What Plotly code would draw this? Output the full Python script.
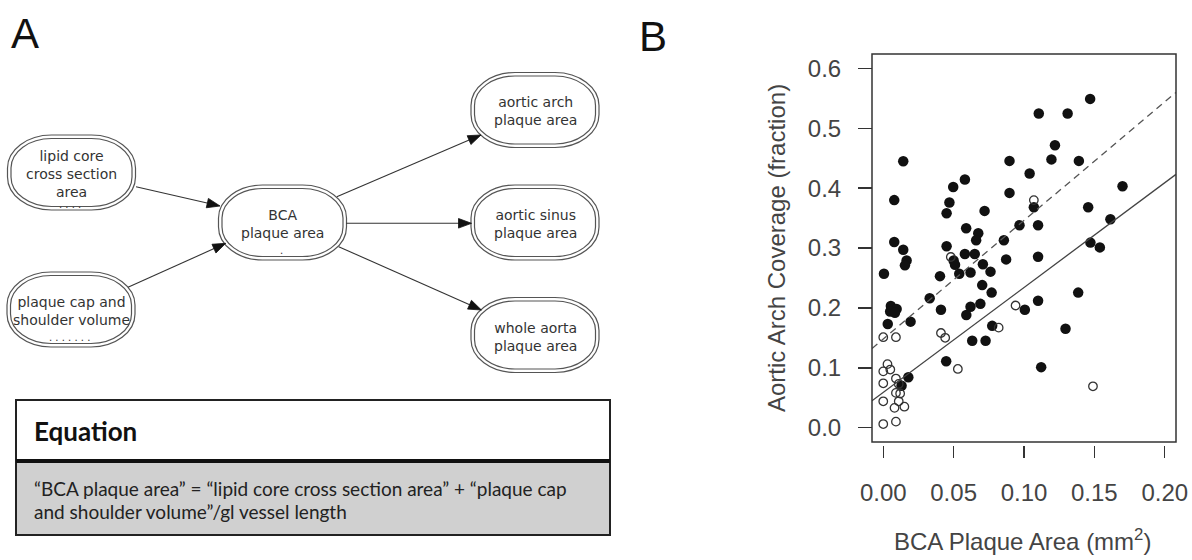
import math
import plotly.graph_objects as go

W, H = 1192, 560

# ---------------- data (panel B) ----------------
filled_x = [0.0142, 0.0078, 0.0078, 0.0142, 0.0166, 0.0154, 0.0005, 0.0054, 0.0095, 0.0049,
            0.0083, 0.0032, 0.0194, 0.0178, 0.0130, 0.0497, 0.0580, 0.0470, 0.0450, 0.0450,
            0.0500, 0.0510, 0.0403, 0.0330, 0.0410, 0.0447, 0.0589, 0.0675, 0.0660, 0.0720,
            0.0580, 0.0650, 0.0540, 0.0620, 0.0708, 0.0762, 0.0703, 0.0770, 0.0690, 0.0620,
            0.0590, 0.0632, 0.0727, 0.0774, 0.0897, 0.0897, 0.0857, 0.0873, 0.0968, 0.1040,
            0.1070, 0.1100, 0.1100, 0.1100, 0.1006, 0.1122, 0.1105, 0.1310, 0.1470, 0.1220,
            0.1195, 0.1390, 0.1700, 0.1456, 0.1614, 0.1472, 0.1539, 0.1385, 0.1295]
filled_y = [0.445, 0.380, 0.310, 0.297, 0.279, 0.271, 0.257, 0.203, 0.198, 0.194,
            0.192, 0.173, 0.177, 0.084, 0.070, 0.402, 0.4145, 0.376, 0.358, 0.303,
            0.279, 0.272, 0.253, 0.216, 0.197, 0.111, 0.333, 0.3245, 0.313, 0.362,
            0.290, 0.290, 0.257, 0.259, 0.273, 0.2605, 0.238, 0.2255, 0.2067, 0.202,
            0.188, 0.145, 0.145, 0.170, 0.4455, 0.392, 0.313, 0.281, 0.338, 0.4245,
            0.368, 0.338, 0.2855, 0.212, 0.197, 0.101, 0.5245, 0.5245, 0.549, 0.4717,
            0.448, 0.4455, 0.403, 0.368, 0.348, 0.309, 0.301, 0.2255, 0.165]

open_x = [0.000, 0.009, 0.003, 0.000, 0.005, 0.000, 0.009, 0.011, 0.009, 0.012,
          0.011, 0.000, 0.008, 0.015, 0.000, 0.009, 0.041, 0.044, 0.053, 0.048,
          0.094, 0.082, 0.107, 0.149]
open_y = [0.151, 0.151, 0.106, 0.094, 0.097, 0.074, 0.082, 0.073, 0.058, 0.057,
          0.044, 0.044, 0.033, 0.035, 0.006, 0.010, 0.158, 0.150, 0.098, 0.285,
          0.204, 0.167, 0.380, 0.069]

fit_names = ["dashed fit", "solid fit"]
fit_intercept = [0.148, 0.059]
fit_slope = [1.98, 1.75]

x_tickvals = [0.00, 0.05, 0.10, 0.15, 0.20]
x_ticktext = ["0.00", "0.05", "0.10", "0.15", "0.20"]
y_tickvals = [0.0, 0.1, 0.2, 0.3, 0.4, 0.5, 0.6]
y_ticktext = ["0.0", "0.1", "0.2", "0.3", "0.4", "0.5", "0.6"]

x_title = "BCA Plaque Area (mm<sup>2</sup>)"
y_title = "Aortic Arch Coverage (fraction)"

# ---------------- data (panel A diagram) ----------------
node_ids = ["lipid", "cap", "bca", "arch", "sinus", "whole"]
node_labels = ["lipid core<br>cross section<br>area", "plaque cap and<br>shoulder volume",
               "BCA<br>plaque area", "aortic arch<br>plaque area",
               "aortic sinus<br>plaque area", "whole aorta<br>plaque area"]
node_dots = ["....", ".......", ".", "", "", ""]
edges = [("lipid", "bca"), ("cap", "bca"), ("bca", "arch"), ("bca", "sinus"), ("bca", "whole")]
eq_header = "Equation"
eq_lines = ["\u201cBCA plaque area\u201d = \u201clipid core cross section area\u201d + \u201cplaque cap",
            "and shoulder volume\u201d/gl vessel length"]

# ---------------- layout positions (pixels) ----------------
node_pos = {"lipid": (71.5, 172.5), "cap": (71, 309.5), "bca": (282.5, 222.5),
            "arch": (535, 110), "sinus": (535, 222.5), "whole": (535, 335)}
node_text_y = {"lipid": 174, "cap": 311, "bca": 224, "arch": 111.5, "sinus": 224, "whole": 336.5}
node_dot_pos = {"lipid": (70, 204), "cap": (69, 337), "bca": (281, 251)}
NW, NH = 128, 75
edge_pts = {("lipid", "bca"): ((136, 186.7), (220, 206)),
            ("cap", "bca"): ((128, 287.3), (225.8, 243.3)),
            ("bca", "arch"): ((336.8, 196.7), (481, 135)),
            ("bca", "sinus"): ((346.3, 223.3), (471.5, 223.3)),
            ("bca", "whole"): ((338.7, 246.7), (481.4, 310))}
HEAD_LEN, HEAD_HALF = 13, 4.8


def px(x):
    return x / W


def py(y):
    return 1 - y / H


def P(x, y):
    return f"{px(x):.6f},{py(y):.6f}"


def stadium(cx, cy, w, h, rx, ry):
    k = 0.5523
    x0, x1 = cx - w / 2, cx + w / 2
    y0, y1 = cy - h / 2, cy + h / 2
    d = (f"M{P(x0 + rx, y0)} L{P(x1 - rx, y0)} "
         f"C{P(x1 - rx + k * rx, y0)} {P(x1, y0 + ry - k * ry)} {P(x1, y0 + ry)} "
         f"L{P(x1, y1 - ry)} "
         f"C{P(x1, y1 - ry + k * ry)} {P(x1 - rx + k * rx, y1)} {P(x1 - rx, y1)} "
         f"L{P(x0 + rx, y1)} "
         f"C{P(x0 + rx - k * rx, y1)} {P(x0, y1 - ry + k * ry)} {P(x0, y1 - ry)} "
         f"L{P(x0, y0 + ry)} "
         f"C{P(x0, y0 + ry - k * ry)} {P(x0 + rx - k * rx, y0)} {P(x0 + rx, y0)} Z")
    return d


fig = go.Figure()

fig.add_trace(go.Scatter(x=filled_x, y=filled_y, mode="markers", name="filled",
                         marker=dict(size=10.5, color="#111111", line=dict(width=0)),
                         showlegend=False, hoverinfo="skip"))
fig.add_trace(go.Scatter(x=open_x, y=open_y, mode="markers", name="open",
                         marker=dict(size=8.5, symbol="circle-open", color="#333333",
                                     line=dict(width=1.3)),
                         showlegend=False, hoverinfo="skip"))

x_lo, x_hi = -0.008, 0.208
styles = ["7px,5px", "solid"]
colors = ["#555555", "#444444"]
for name, b0, b1, dash, col in zip(fit_names, fit_intercept, fit_slope, styles, colors):
    fig.add_trace(go.Scatter(x=[x_lo, x_hi], y=[b0 + b1 * x_lo, b0 + b1 * x_hi],
                             mode="lines", name=name, showlegend=False, hoverinfo="skip",
                             line=dict(color=col, width=1.3, dash=dash)))

tick_font = dict(family="Liberation Sans, Arial, sans-serif", size=24, color="#444444")

fig.update_layout(
    template="none",
    width=W, height=H, margin=dict(l=0, r=0, t=0, b=0, pad=0, autoexpand=False),
    paper_bgcolor="white", plot_bgcolor="white", showlegend=False,
    xaxis=dict(domain=[px(872), px(1176)], range=[x_lo, x_hi], tickvals=x_tickvals,
               ticktext=x_ticktext, ticks="outside", ticklen=12, tickwidth=1.5,
               tickcolor="#333333", showline=False, showgrid=False, zeroline=False,
               anchor="free", position=py(445), tickfont=tick_font,
               ticklabelstandoff=14, automargin=False, ticklabeloverflow="allow"),
    yaxis=dict(domain=[py(442), py(54)], range=[-0.024, 0.624], tickvals=y_tickvals,
               ticktext=y_ticktext, ticks="outside", ticklen=14, tickwidth=1.5,
               tickcolor="#333333", showline=False, showgrid=False, zeroline=False,
               anchor="free", position=px(872), tickfont=tick_font,
               ticklabelstandoff=12, automargin=False, ticklabeloverflow="allow"),
)

shapes = []
annotations = []

# plot box
shapes.append(dict(type="rect", xref="x domain", yref="y domain", x0=0, x1=1, y0=0, y1=1,
                   line=dict(color="#333333", width=1.5)))

# axis titles
annotations.append(dict(x=px(1022), y=py(540), xref="paper", yref="paper", text=x_title,
                        showarrow=False, font=dict(family="Liberation Sans, Arial, sans-serif",
                                                   size=24, color="#444444"),
                        xanchor="center", yanchor="middle"))
annotations.append(dict(x=px(776), y=py(248), xref="paper", yref="paper", text=y_title,
                        showarrow=False, textangle=-90,
                        font=dict(family="Liberation Sans, Arial, sans-serif", size=24,
                                  color="#444444"),
                        xanchor="center", yanchor="middle"))

# panel letters
for letter, (lx, ly) in zip(["A", "B"], [(25, 33), (653, 37)]):
    annotations.append(dict(x=px(lx), y=py(ly), xref="paper", yref="paper", text=letter,
                            showarrow=False, font=dict(family="Liberation Sans, Arial, sans-serif",
                                                       size=42, color="#111111"),
                            xanchor="center", yanchor="middle"))

# diagram nodes
node_font = dict(family="DejaVu Sans, sans-serif", size=14, color="#333333")
for nid, lab, dots in zip(node_ids, node_labels, node_dots):
    cx, cy = node_pos[nid]
    shapes.append(dict(type="path", xref="paper", yref="paper",
                       path=stadium(cx, cy, NW, NH, 44, 33),
                       line=dict(color="#555555", width=1.2)))
    shapes.append(dict(type="path", xref="paper", yref="paper",
                       path=stadium(cx, cy, NW - 7, NH - 7, 40.5, 29.5),
                       line=dict(color="#555555", width=1.2)))
    annotations.append(dict(x=px(cx), y=py(node_text_y[nid]), xref="paper", yref="paper",
                            text=lab, showarrow=False, font=node_font,
                            xanchor="center", yanchor="middle", align="center"))
    if dots:
        dx, dy = node_dot_pos[nid]
        annotations.append(dict(x=px(dx), y=py(dy), xref="paper", yref="paper",
                                text=" ".join(dots), showarrow=False,
                                font=dict(family="DejaVu Sans, sans-serif", size=10,
                                          color="#333333"),
                                xanchor="center", yanchor="middle"))

# diagram edges: shaft + filled triangular head
for e in edges:
    (tx, ty), (hx, hy) = edge_pts[e]
    L = math.hypot(hx - tx, hy - ty)
    ux, uy = (hx - tx) / L, (hy - ty) / L
    bx, by = hx - ux * HEAD_LEN, hy - uy * HEAD_LEN
    nx, ny = -uy, ux
    shapes.append(dict(type="line", xref="paper", yref="paper",
                       x0=px(tx), y0=py(ty), x1=px(bx + ux * 2), y1=py(by + uy * 2),
                       line=dict(color="#333333", width=1.1)))
    shapes.append(dict(type="path", xref="paper", yref="paper",
                       path=(f"M{P(hx, hy)} L{P(bx + nx * HEAD_HALF, by + ny * HEAD_HALF)} "
                             f"L{P(bx - nx * HEAD_HALF, by - ny * HEAD_HALF)} Z"),
                       fillcolor="#111111", line=dict(color="#111111", width=0.8)))

# equation box
shapes.append(dict(type="rect", xref="paper", yref="paper", x0=px(16), x1=px(610),
                   y0=py(535), y1=py(461), fillcolor="#d0d0d0", line=dict(width=0),
                   layer="below"))
shapes.append(dict(type="rect", xref="paper", yref="paper", x0=px(16), x1=px(610),
                   y0=py(535), y1=py(400), line=dict(color="#222222", width=2)))
shapes.append(dict(type="line", xref="paper", yref="paper", x0=px(16), x1=px(610),
                   y0=py(461), y1=py(461), line=dict(color="#111111", width=4)))
annotations.append(dict(x=px(32), y=py(431), xref="paper", yref="paper", text=eq_header,
                        showarrow=False, xanchor="left", yanchor="middle",
                        font=dict(family="Lato, sans-serif", size=26, color="#111111",
                                  weight="bold")))
for line, ly in zip(eq_lines, [488.5, 511]):
    annotations.append(dict(x=px(32), y=py(ly), xref="paper", yref="paper", text=line,
                            showarrow=False, xanchor="left", yanchor="middle",
                            font=dict(family="Lato, sans-serif", size=19, color="#222222")))

fig.update_layout(shapes=shapes, annotations=annotations, hovermode=False)
fig.write_html("out.html", config={"displayModeBar": False, "staticPlot": True},
               post_script="document.body.style.margin='0px';"
                           "document.body.style.overflow='hidden';")
